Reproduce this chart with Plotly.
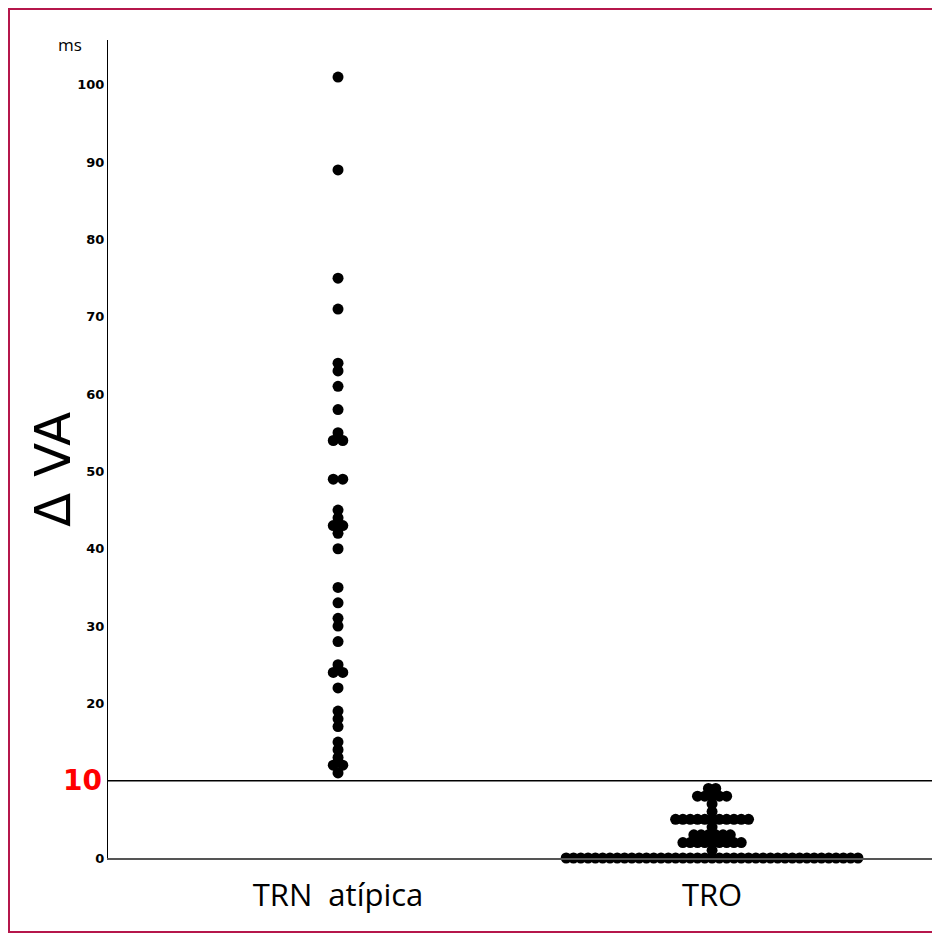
import numpy as np
import plotly.graph_objects as go

categories = ["TRN\u00a0 atípica", "TRO"]

trn_values = [101, 89, 75, 71, 64, 63, 61, 58, 55, 54, 54, 49, 49, 45, 44, 43, 43, 42, 40,
              35, 33, 31, 30, 28, 25, 24, 24, 22, 19, 18, 17, 15, 14, 13, 12, 12, 11]

tro_levels = [0, 1, 2, 3, 4, 5, 6, 7, 8, 9]
tro_counts = [41, 1, 9, 6, 1, 11, 1, 1, 5, 2]

y_ticks = [0, 10, 20, 30, 40, 50, 60, 70, 80, 90, 100]
cutoff = 10

tro_values = [lv for lv, c in zip(tro_levels, tro_counts) for _ in range(c)]


def swarm(values, center, step):
    xs, ys = [], []
    vals = np.array(values)
    for v in sorted(set(values)):
        n = int((vals == v).sum())
        for i in range(n):
            xs.append(center + (i - (n - 1) / 2) * step)
            ys.append(v)
    return xs, ys


STEP = 0.0195
x1, y1 = swarm(trn_values, 0, STEP * 1.3)
x2, y2 = swarm(tro_values, 1, STEP)

fig = go.Figure()
for xs, ys in [(x1, y1), (x2, y2)]:
    fig.add_trace(go.Scatter(x=xs, y=ys, mode="markers",
                             marker=dict(size=11, color="black", line=dict(width=0)),
                             cliponaxis=False, showlegend=False, hoverinfo="skip"))

ticktext = ["" if t == cutoff else str(t) for t in y_ticks]

OFF = 8  # page body margin
W, H = 940 - OFF, 935 - OFF
L, R, T, B = 108 - OFF, 5, 40 - OFF, 77
pw, ph = W - L - R, H - T - B


def px(xp):
    return (xp - OFF - L) / pw


def py(yp):
    return (H - B - (yp - OFF)) / ph


fig.update_layout(
    width=W, height=H,
    margin=dict(l=L, r=R, t=T, b=B),
    paper_bgcolor="white", plot_bgcolor="white",
    font=dict(family="Liberation Sans, Arial, sans-serif", color="black"),
    xaxis=dict(range=[-0.615, 1.596], showgrid=False, zeroline=False,
               showline=True, linecolor="#555555", linewidth=1.5,
               tickvals=[0, 1], ticktext=categories, ticks="", ticklabelstandoff=9,
               tickfont=dict(family="Open Sans, sans-serif", size=31, color="black")),
    yaxis=dict(range=[0, 105.8], showgrid=False, zeroline=False,
               showline=True, linecolor="black", linewidth=1,
               tickvals=y_ticks, ticktext=ticktext, ticks="",
               tickfont=dict(family="DejaVu Sans, sans-serif", size=13,
                             color="black", weight="bold")),
    shapes=[
        dict(type="line", xref="paper", yref="y", x0=0, x1=1, y0=cutoff, y1=cutoff,
             line=dict(color="black", width=1.5)),
        dict(type="rect", xref="paper", yref="paper",
             x0=px(9), x1=px(938), y0=py(932), y1=py(9),
             line=dict(color="#B5174B", width=2), fillcolor="rgba(0,0,0,0)", layer="above"),
    ],
    annotations=[
        dict(text=str(cutoff), xref="paper", yref="y", x=px(104), y=cutoff,
             xanchor="right", yanchor="middle", showarrow=False,
             font=dict(family="DejaVu Sans, sans-serif", size=28, color="#ff0000",
                       weight="bold")),
        dict(text="ms", xref="paper", yref="paper", x=px(70), y=py(45),
             xanchor="center", yanchor="middle",
             showarrow=False, font=dict(family="Open Sans, sans-serif", size=17)),
        dict(text="Δ VA", xref="paper", yref="paper", x=px(53), y=py(470),
             xanchor="center", yanchor="middle",
             textangle=-90, showarrow=False,
             font=dict(family="DejaVu Sans, sans-serif", size=50)),
    ],
)

fig.write_html("out.html")
